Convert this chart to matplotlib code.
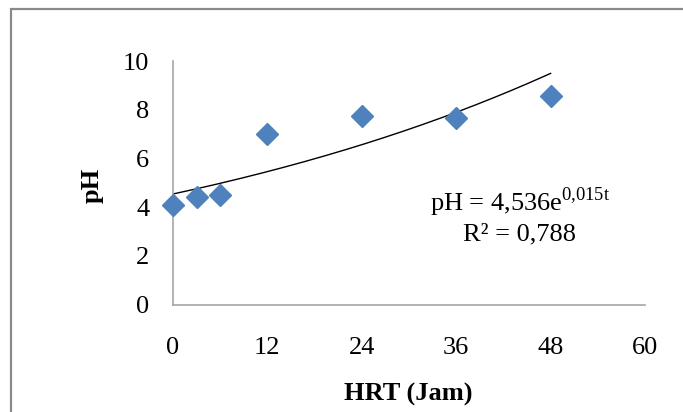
import numpy as np
import matplotlib
matplotlib.use("Agg")
import matplotlib.pyplot as plt
from matplotlib.patches import Rectangle

hrt = [0, 3, 6, 12, 24, 36, 48]
ph = [4.1, 4.4, 4.5, 7.0, 7.75, 7.65, 8.55]
eq_label = r'pH = 4,536e$^{\mathregular{0{,}015t}}$'
r2_label = 'R² = 0,788'
x_ticks = [0, 12, 24, 36, 48, 60]
y_ticks = [0, 2, 4, 6, 8, 10]

plt.rcParams['font.family'] = ['Liberation Serif', 'DejaVu Serif']

fig = plt.figure(figsize=(6.83, 4.12), dpi=100)
fig.patches.append(Rectangle((11/683, -0.01), 1.0, 1 - 9/412 + 0.01,
                             transform=fig.transFigure, fill=False,
                             edgecolor='#8a8a8a', linewidth=1.6, zorder=0))
ax = fig.add_axes([173/683, 1 - 304.5/412, (645 - 173)/683, (304.5 - 61)/412])

# exponential trendline fitted to the data (as Excel does)
b, ln_a = np.polyfit(hrt, np.log(ph), 1)
tt = np.linspace(min(hrt), max(hrt), 200)
ax.plot(tt, np.exp(ln_a) * np.exp(b * tt), color='black', linewidth=1.0, zorder=2)
ax.plot(hrt, ph, linestyle='none', marker='D', markersize=11,
        color='#4F81BD', markeredgecolor='#4F81BD', zorder=3, clip_on=False)

ax.set_xlim(0, 60)
ax.set_ylim(0, 10)
ax.set_xticks(x_ticks)
ax.set_yticks(y_ticks)
ax.tick_params(length=0, labelsize=19, colors='black')
ax.tick_params(axis='x', pad=23.5)
ax.tick_params(axis='y', pad=17)
for s in ['top', 'right']:
    ax.spines[s].set_visible(False)
for s in ['left', 'bottom']:
    ax.spines[s].set_color('#a6a6a6')
    ax.spines[s].set_linewidth(1.2)

ax.set_xlabel('HRT (Jam)', fontsize=19, fontweight='bold', va='center')
ax.xaxis.set_label_coords((408 - 173) / 472, (304.5 - 394) / 243.5)
ax.set_ylabel('pH', fontsize=19, fontweight='bold', va='center')
ax.yaxis.set_label_coords((92 - 173) / 472, (304.5 - 185) / 243.5)

ax.text(44.1, 3.84, eq_label, fontsize=19, ha='center', va='baseline')
ax.text(44.1, 2.65, r2_label, fontsize=19, ha='center', va='baseline')

fig.savefig('out.png', dpi=100)
